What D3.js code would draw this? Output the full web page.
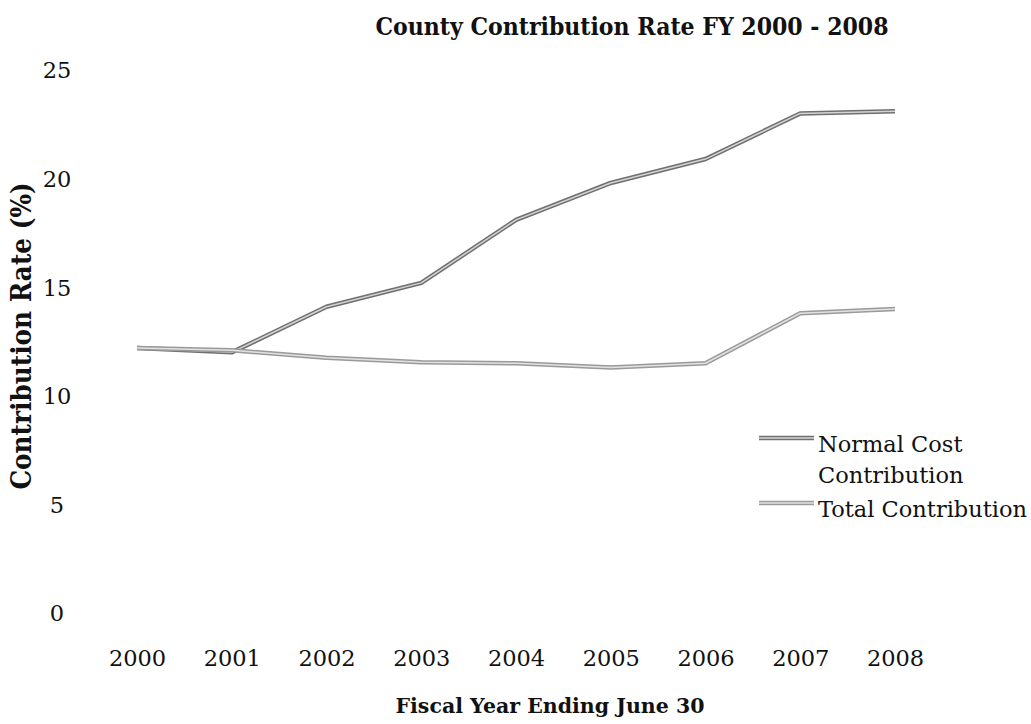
<!DOCTYPE html>
<html>
<head>
<meta charset="utf-8">
<script src="https://cdn.jsdelivr.net/npm/d3@7"></script>
<style>
  html, body { margin: 0; padding: 0; background: #fff; }
  svg { display: block; }
  text { font-family: "DejaVu Serif", "Liberation Serif", serif; fill: #111; }
</style>
</head>
<body>
<svg id="chart" width="1031" height="724"></svg>
<script>
const years = ["2000", "2001", "2002", "2003", "2004", "2005", "2006", "2007", "2008"];
const upperValues = [12.2, 12.0, 14.1, 15.2, 18.1, 19.8, 20.9, 23.0, 23.1];
const lowerValues = [12.2, 12.1, 11.75, 11.55, 11.5, 11.3, 11.5, 13.8, 14.0];
const yTicks = [0, 5, 10, 15, 20, 25];
const seriesNames = ["Normal Cost Contribution", "Total Contribution"];
const titleText = "County Contribution Rate FY 2000 - 2008";
const xTitle = "Fiscal Year Ending June 30";
const yTitle = "Contribution Rate (%)";

const svg = d3.select("#chart");
const x = d3.scalePoint().domain(years).range([137, 895]);
const y = d3.scaleLinear().domain([0, 25]).range([613, 70]);

// title
svg.append("text").attr("x", 632).attr("y", 35).attr("text-anchor", "middle")
  .style("font-family", "'DejaVu Serif Condensed', 'DejaVu Serif', serif")
  .style("font-size", "24.5px").style("font-weight", "bold").text(titleText);

// y axis (no line, labels only)
const yAxis = d3.axisLeft(y).tickValues(yTicks).tickSize(0).tickPadding(0);
const gy = svg.append("g").attr("transform", "translate(70,0)").call(yAxis);
gy.select(".domain").remove();
gy.selectAll("text").attr("x", -13).attr("text-anchor", "middle").attr("dy", "0.35em")
  .style("font-size", "22.5px").style("font-family", "DejaVu Serif").style("fill", "#111");

// x axis labels
const xAxis = d3.axisBottom(x).tickSize(0).tickPadding(0);
const gx = svg.append("g").attr("transform", "translate(0,658)").call(xAxis);
gx.select(".domain").remove();
gx.selectAll("text").attr("dy", "0.35em")
  .style("font-size", "22.5px").style("font-family", "DejaVu Serif").style("fill", "#111");

// axis titles
svg.append("text").attr("x", 550).attr("y", 713).attr("text-anchor", "middle")
  .style("font-size", "20.5px").style("font-weight", "bold").text(xTitle);
svg.append("text").attr("transform", "translate(31,336) rotate(-90)").attr("text-anchor", "middle")
  .style("font-family", "'DejaVu Serif Condensed', 'DejaVu Serif', serif")
  .style("font-size", "27.5px").style("font-weight", "bold").text(yTitle);

// lines
const line = d3.line().x((d, i) => x(years[i])).y(d => y(d));
const styles = [
  { outer: "#6f6f6f", inner: "#d4d4d4" },
  { outer: "#9a9a9a", inner: "#e2e2e2" }
];
[upperValues, lowerValues].forEach((vals, k) => {
  svg.append("path").datum(vals).attr("d", line).attr("fill", "none")
    .attr("stroke", styles[k].outer).attr("stroke-width", 4.5).attr("stroke-linejoin", "round");
  svg.append("path").datum(vals).attr("d", line).attr("fill", "none")
    .attr("stroke", styles[k].inner).attr("stroke-width", 1.5).attr("stroke-linejoin", "round");
});

// legend
const legendRows = [
  { lines: ["Normal Cost", "Contribution"], y: 438 },
  { lines: ["Total Contribution"], y: 503 }
];
legendRows.forEach((r, k) => {
  svg.append("line").attr("x1", 759).attr("x2", 814).attr("y1", r.y).attr("y2", r.y)
    .attr("stroke", styles[k].outer).attr("stroke-width", 4.5);
  svg.append("line").attr("x1", 759).attr("x2", 814).attr("y1", r.y).attr("y2", r.y)
    .attr("stroke", styles[k].inner).attr("stroke-width", 1.5);
  r.lines.forEach((t, j) => {
    svg.append("text").attr("x", 818).attr("y", r.y + 14 + j * 31)
      .style("font-size", "22.5px").text(t);
  });
});
</script>
</body>
</html>
